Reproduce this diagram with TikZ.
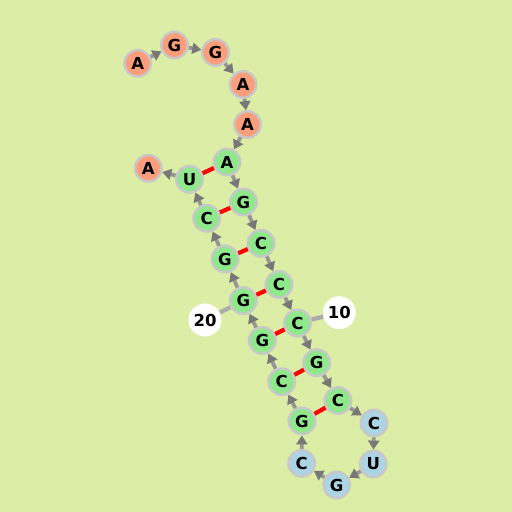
\documentclass[tikz,border=0pt]{standalone}
\usepackage{fontspec}
\setmainfont{DejaVu Sans}
\usetikzlibrary{arrows.meta}
\definecolor{bg}{RGB}{220,237,165}
\definecolor{salm}{RGB}{252,158,124}
\definecolor{grn}{RGB}{144,232,140}
\definecolor{blu}{RGB}{172,212,228}
\definecolor{bord}{RGB}{200,200,200}
\definecolor{linkc}{RGB}{150,150,150}
\definecolor{tipc}{RGB}{120,120,120}
\begin{document}
\begin{tikzpicture}[x=1pt,y=-1pt,
  base/.style={circle,draw=bord,line width=2.4pt,minimum size=26.5pt,inner sep=0pt,font=\bfseries\fontsize{16.5}{16.5}\selectfont},
  sa/.style={base,fill=salm},
  gr/.style={base,fill=grn},
  bl/.style={base,fill=blu},
  lab/.style={circle,fill=white,minimum size=33pt,inner sep=0pt,font=\bfseries\fontsize{16.5}{16.5}\selectfont},
  arr/.style={draw=linkc,line width=3.8pt,-{Triangle[length=9pt,width=11pt,color=tipc]}},
  bp/.style={draw=red,line width=4.2pt},
  ll/.style={draw=linkc!80,line width=4.2pt}]
\useasboundingbox[fill=bg] (0,0) rectangle (512,512);
\node[sa] (n1) at (137.7,63.3) {A};
\node[sa] (n2) at (174.5,45) {G};
\node[sa] (n3) at (215.5,52.5) {G};
\node[sa] (n4) at (243,84.5) {A};
\node[sa] (n5) at (247.5,124.5) {A};
\node[gr] (n6) at (227,162) {A};
\node[gr] (n7) at (243.5,202) {G};
\node[gr] (n8) at (261,243.3) {C};
\node[gr] (n9) at (279,284.5) {C};
\node[gr] (n10) at (297.5,323) {C};
\node[gr] (n11) at (316.7,362.7) {G};
\node[gr] (n12) at (338,400.5) {C};
\node[bl] (n13) at (374,423) {C};
\node[bl] (n14) at (373.3,464) {U};
\node[bl] (n15) at (336.7,485) {G};
\node[bl] (n16) at (301.7,463.3) {C};
\node[gr] (n17) at (302,421) {G};
\node[gr] (n18) at (281.7,381.7) {C};
\node[gr] (n19) at (262.3,340.5) {G};
\node[gr] (n20) at (243.3,300.7) {G};
\node[gr] (n21) at (225,259) {G};
\node[gr] (n22) at (206.7,218.3) {C};
\node[gr] (n23) at (189.5,179.3) {U};
\node[sa] (n24) at (148.3,168.3) {A};
\node[lab] (l10) at (339.3,312.7) {10};
\node[lab] (l20) at (205,320) {20};
\foreach \a/\b in {1/2,2/3,3/4,4/5,5/6,6/7,7/8,8/9,9/10,10/11,11/12,12/13,13/14,14/15,15/16,16/17,17/18,18/19,19/20,20/21,21/22,22/23,23/24}
  \draw[arr] (n\a) -- (n\b);
\foreach \a/\b in {6/23,7/22,8/21,9/20,10/19,11/18,12/17}
  \draw[bp] (n\a) -- (n\b);
\draw[ll] (l10) -- (n10);
\draw[ll] (l20) -- (n20);
\end{tikzpicture}
\end{document}
